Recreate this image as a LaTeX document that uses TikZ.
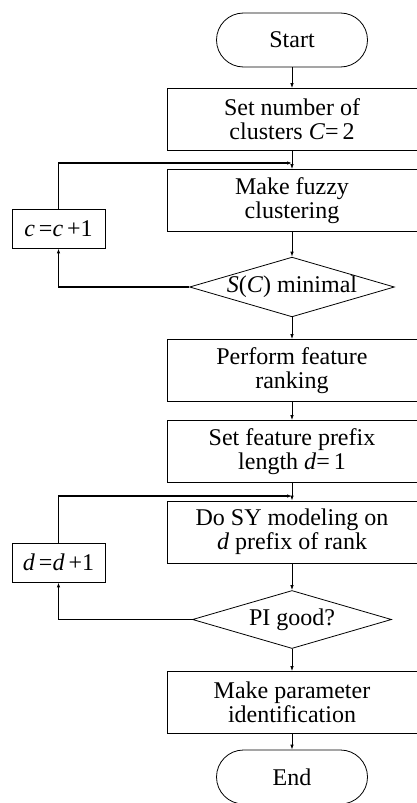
\documentclass[tikz,border=0pt]{standalone}
\usepackage{fontspec}
\setmainfont{Liberation Serif}
\usetikzlibrary{shapes.geometric,arrows.meta}
\begin{document}
\begin{tikzpicture}[x=1pt,y=-1pt,
  every node/.style={font=\fontsize{24}{24}\selectfont, align=center, inner sep=0pt},
  proc/.style={draw, line width=0.8pt, minimum width=250pt, minimum height=62pt},
  term/.style={draw, line width=0.8pt, rounded corners=27pt, minimum width=151pt, minimum height=54pt},
  dec/.style={draw, line width=0.8pt, diamond, aspect=3.43, minimum width=199pt, minimum height=58pt},
  small/.style={draw, line width=0.8pt, minimum width=93pt, minimum height=39pt},
  arr/.style={-{Latex[length=5pt,width=3.5pt]}, line width=0.8pt},
  fb/.style={line width=1.4pt}]
\useasboundingbox (0,0) rectangle (417,803);
\node[term] (start) at (292,40) {Start};
\node[proc] (b1) at (292,119.5) {Set number of\\clusters \textit{C}=\,2};
\node[proc] (b2) at (292,200.5) {Make fuzzy\\clustering};
\node[dec] (d1) at (292,287) {\textit{S}(\textit{C}) minimal};
\node[proc] (b3) at (292,370.5) {Perform feature\\ranking};
\node[proc] (b4) at (292,451.5) {Set feature prefix\\length \textit{d}=\,1};
\node[proc] (b5) at (292,532) {Do SY modeling on\\\textit{d} prefix of rank};
\node[dec] (d2) at (292,619.5) {PI good?};
\node[proc] (b6) at (292,702.5) {Make parameter\\identification};
\node[term] (end) at (292,777) {End};
\node[small] (c1) at (58.5,228.5) {\textit{c}\,=\textit{c}\,+1};
\node[small] (c2) at (58.5,562.5) {\textit{d}\,=\textit{d}\,+1};
\coordinate (m1) at (292,163);
\coordinate (m2) at (292,496);
\draw[arr] (start) -- (b1);
\draw[arr] (b1) -- (b2);
\draw[arr] (b2) -- (d1);
\draw[arr] (d1) -- (b3);
\draw[arr] (b3) -- (b4);
\draw[arr] (b4) -- (b5);
\draw[arr] (b5) -- (d2);
\draw[arr] (d2) -- (b6);
\draw[arr] (b6) -- (end);
\draw[fb,arr,line width=1.4pt] (d1.west) -| (c1.south);
\draw[fb,arr,line width=1.4pt] (c1.north) |- (m1);
\draw[fb,arr,line width=1.4pt] (d2.west) -| (c2.south);
\draw[fb,arr,line width=1.4pt] (c2.north) |- (m2);
\end{tikzpicture}
\end{document}
